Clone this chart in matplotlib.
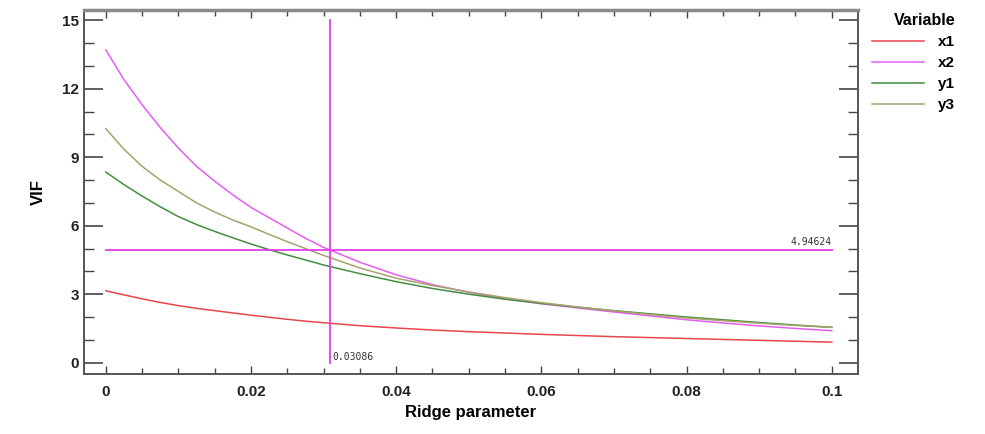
import matplotlib
matplotlib.use("Agg")
import matplotlib.pyplot as plt
from matplotlib.ticker import MultipleLocator

plt.rcParams['font.family'] = ['Liberation Sans', 'DejaVu Sans']

ridge = [0.0, 0.0025, 0.005, 0.0075, 0.01, 0.0125, 0.015, 0.0175, 0.02, 0.0225,
         0.025, 0.0275, 0.03, 0.035, 0.04, 0.045, 0.05,
         0.055, 0.06, 0.065, 0.07, 0.075, 0.08, 0.085, 0.09, 0.095, 0.1]

vif_x1 = [3.15, 2.97, 2.8, 2.64, 2.5, 2.38, 2.28, 2.18, 2.08, 1.99,
          1.9, 1.82, 1.75, 1.62, 1.52, 1.43, 1.36,
          1.3, 1.24, 1.19, 1.14, 1.1, 1.06, 1.02, 0.98, 0.94, 0.9]
vif_x2 = [13.7, 12.4, 11.3, 10.3, 9.4, 8.6, 7.95, 7.35, 6.8, 6.35,
          5.9, 5.45, 5.05, 4.4, 3.85, 3.42, 3.08,
          2.8, 2.58, 2.4, 2.22, 2.05, 1.88, 1.74, 1.61, 1.5, 1.4]
vif_y1 = [8.35, 7.8, 7.3, 6.83, 6.4, 6.05, 5.75, 5.47, 5.2, 4.95,
          4.72, 4.5, 4.28, 3.9, 3.55, 3.25, 3.0,
          2.78, 2.6, 2.43, 2.28, 2.14, 2.0, 1.88, 1.76, 1.65, 1.55]
vif_y3 = [10.25, 9.35, 8.6, 8.0, 7.5, 7.0, 6.6, 6.25, 5.95, 5.62,
          5.3, 5.0, 4.7, 4.15, 3.7, 3.38, 3.1,
          2.85, 2.63, 2.44, 2.27, 2.11, 1.96, 1.84, 1.73, 1.63, 1.55]

series = [("x1", vif_x1, "#e8474a"), ("x2", vif_x2, "#e45ef0"),
          ("y1", vif_y1, "#3f8f3f"), ("y3", vif_y3, "#a7a26a")]

k_chosen = 0.03086
vif_cut = 4.94624

fig = plt.figure(figsize=(9.85, 4.34), dpi=100)
ax = fig.add_axes([0.0853, 0.138, 0.7857, 0.839])

for name, vals, col in series:
    ax.plot(ridge, vals, color=col, lw=1.1, label=name)

# chosen ridge parameter and VIF cut-off
ax.plot([0, 0.1], [vif_cut, vif_cut], color="#e040e8", lw=1.3)
ax.plot([k_chosen, k_chosen], [0, 15], color="#e040e8", lw=1.3)
ax.text(0.1, vif_cut + 0.12, "4.94624", ha="right", va="bottom",
        fontsize=7, family="DejaVu Sans Mono", color="#333333")
ax.text(k_chosen + 0.0004, 0.02, "0.03086", ha="left", va="bottom",
        fontsize=7, family="DejaVu Sans Mono", color="#333333")

ax.set_xlim(-0.003, 0.1036)
ax.set_ylim(-0.5, 15.45)
ax.xaxis.set_major_locator(MultipleLocator(0.02))
ax.xaxis.set_minor_locator(MultipleLocator(0.005))
ax.yaxis.set_major_locator(MultipleLocator(3))
ax.yaxis.set_minor_locator(MultipleLocator(1))
ax.xaxis.set_major_formatter(plt.FuncFormatter(lambda v, p: f"{v:g}"))

ax.tick_params(which="both", direction="in", top=True, right=True,
               colors="#444444", labelcolor="#222222")
ax.tick_params(axis="y", which="major", length=14, width=1.2)
ax.tick_params(axis="y", which="minor", length=7, width=1)
ax.tick_params(axis="x", which="major", length=6, width=1)
ax.tick_params(axis="x", which="minor", length=4, width=1)
for lab in ax.get_xticklabels() + ax.get_yticklabels():
    lab.set_fontweight("bold")
    lab.set_fontsize(11)
ax.tick_params(axis="x", pad=8)

for sp in ax.spines.values():
    sp.set_color("#555555")
    sp.set_linewidth(1.4)
ax.spines["top"].set_color("#8a8a8a")
ax.spines["top"].set_linewidth(2.5)

ax.set_xlabel("Ridge parameter", fontsize=12, fontweight="bold", labelpad=4)
ax.set_ylabel("VIF", fontsize=12, fontweight="bold", labelpad=12)

leg = ax.legend(loc="upper left", bbox_to_anchor=(1.005, 1.02), frameon=False,
                title="Variable", fontsize=11, handlelength=3.4,
                labelspacing=0.45, handletextpad=0.9, borderaxespad=0.3)
leg.get_title().set_fontweight("bold")
leg.get_title().set_fontsize(11.5)
leg._legend_box.align = "right"
for t in leg.get_texts():
    t.set_fontweight("bold")

fig.savefig("out.png", dpi=100)
